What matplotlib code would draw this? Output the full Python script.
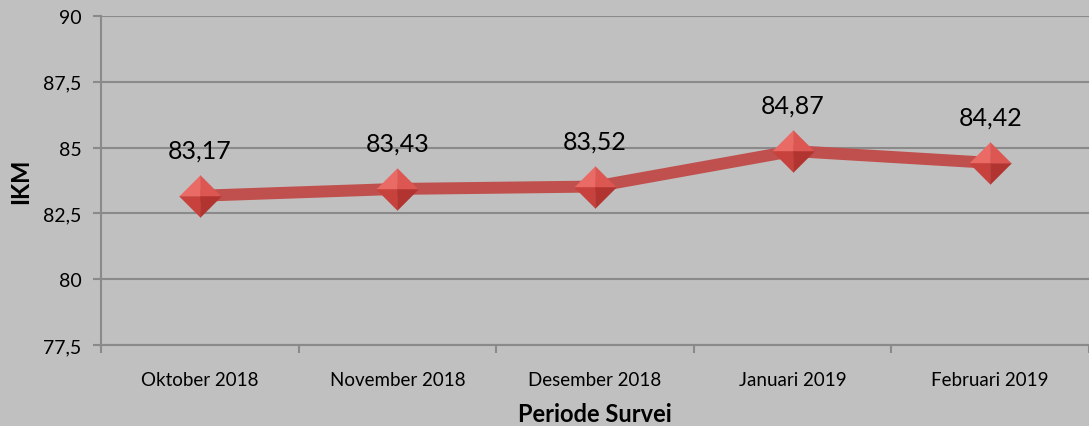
import matplotlib
matplotlib.use("Agg")
import matplotlib.pyplot as plt

periods = ["Oktober 2018", "November 2018", "Desember 2018", "Januari 2019", "Februari 2019"]
ikm = [83.17, 83.43, 83.52, 84.87, 84.42]
y_ticks = [77.5, 80, 82.5, 85, 87.5, 90]

plt.rcParams["font.family"] = ["Lato", "DejaVu Sans"]

bg = "#c0c0c0"
grid_col = "#8a8a8a"
line_col = "#c0504d"

fig = plt.figure(figsize=(10.89, 4.27), dpi=100, facecolor=bg)
ax = fig.add_axes([101 / 1089, 1 - 346 / 427, 1 - 101 / 1089, (346 - 17) / 427])
ax.set_facecolor(bg)

x = list(range(len(periods)))

# axes and grid
ax.set_ylim(77.5, 90)
ax.set_xlim(-0.5, len(periods) - 0.5)
ax.set_yticks(y_ticks)
ax.set_yticklabels([f"{v:g}".replace(".", ",") for v in y_ticks], fontsize=14)
ax.yaxis.grid(True, color=grid_col, linewidth=1.5)
ax.set_axisbelow(True)

# tick marks between categories, labels centred on them
ax.set_xticks([i - 0.5 for i in range(len(periods) + 1)])
ax.set_xticklabels([])
ax.set_xticks(x, minor=True)
ax.set_xticklabels(periods, minor=True, fontsize=13.5)
ax.tick_params(axis="x", which="minor", length=0, pad=19)
ax.tick_params(axis="x", which="major", length=6, color=grid_col, width=1.5)
ax.tick_params(axis="y", length=6, color=grid_col, width=1.5, pad=8)

for s in ["top", "right"]:
    ax.spines[s].set_visible(False)
for s in ["left", "bottom"]:
    ax.spines[s].set_color(grid_col)
    ax.spines[s].set_linewidth(1.5)

# line
ax.plot(x, ikm, color=line_col, linewidth=8.6, solid_capstyle="butt", zorder=3)

# pyramid-style diamond markers built from four facets
facets = [
    ([(0, 0), (-1, 0), (0, 1), (0, 0)], "#ea6a65"),
    ([(0, 0), (0, 1), (1, 0), (0, 0)], "#dc5752"),
    ([(0, 0), (-1, 0), (0, -1), (0, 0)], "#c8423d"),
    ([(0, 0), (1, 0), (0, -1), (0, 0)], "#b23430"),
]
ms = 30
for verts, col in facets:
    ax.plot(x, ikm, linestyle="none", marker=verts, markersize=ms,
            markerfacecolor=col, markeredgecolor=col, markeredgewidth=0.3, zorder=5)

for xi, v in zip(x, ikm):
    ax.annotate(f"{v:.2f}".replace(".", ","), (xi, v), xytext=(0, 33),
                textcoords="offset points", ha="center", va="center", fontsize=18)

ax.set_xlabel("Periode Survei", fontsize=17, fontweight="bold", labelpad=10)
ax.set_ylabel("IKM", fontsize=17, fontweight="bold", labelpad=8)

fig.savefig("out.png", dpi=100, facecolor=bg)
